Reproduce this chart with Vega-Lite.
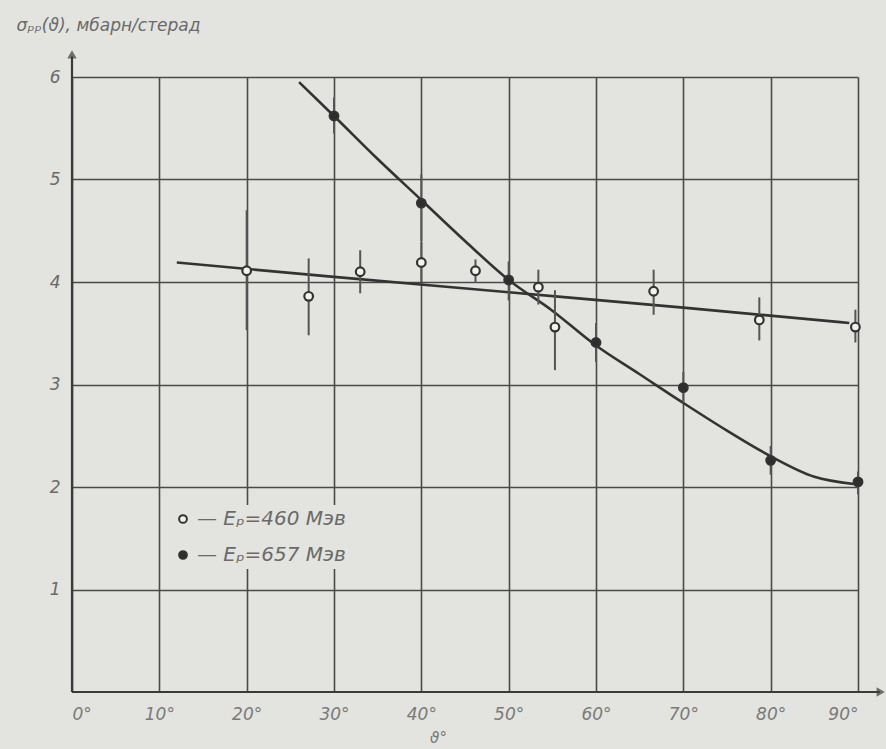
{
  "$schema": "https://vega.github.io/schema/vega-lite/v6.json",
  "width": 786,
  "height": 615,
  "autosize": "none",
  "padding": {"left": 72, "top": 77, "right": 28, "bottom": 57},
  "background": "#e3e3df",
  "config": {
    "view": {"stroke": null},
    "font": "DejaVu Sans",
    "axis": {"labelFont": "DejaVu Sans", "titleFont": "DejaVu Sans"}
  },
  "datasets": {
    "pts": [
      {"a": 20, "s": 4.11, "lo": 3.53, "hi": 4.70, "series": "460"},
      {"a": 27.1, "s": 3.86, "lo": 3.48, "hi": 4.23, "series": "460"},
      {"a": 33, "s": 4.10, "lo": 3.89, "hi": 4.31, "series": "460"},
      {"a": 40, "s": 4.19, "lo": 4.0, "hi": 4.39, "series": "460"},
      {"a": 46.2, "s": 4.11, "lo": 3.99, "hi": 4.22, "series": "460"},
      {"a": 53.4, "s": 3.95, "lo": 3.78, "hi": 4.12, "series": "460"},
      {"a": 55.3, "s": 3.56, "lo": 3.14, "hi": 3.92, "series": "460"},
      {"a": 66.6, "s": 3.91, "lo": 3.68, "hi": 4.12, "series": "460"},
      {"a": 78.7, "s": 3.63, "lo": 3.43, "hi": 3.85, "series": "460"},
      {"a": 89.7, "s": 3.56, "lo": 3.41, "hi": 3.73, "series": "460"},
      {"a": 30, "s": 5.62, "lo": 5.45, "hi": 5.80, "series": "657"},
      {"a": 40, "s": 4.77, "lo": 4.40, "hi": 5.05, "series": "657"},
      {"a": 50, "s": 4.02, "lo": 3.82, "hi": 4.20, "series": "657"},
      {"a": 60, "s": 3.41, "lo": 3.22, "hi": 3.60, "series": "657"},
      {"a": 70, "s": 2.97, "lo": 2.82, "hi": 3.12, "series": "657"},
      {"a": 80, "s": 2.26, "lo": 2.12, "hi": 2.40, "series": "657"},
      {"a": 90, "s": 2.05, "lo": 1.93, "hi": 2.15, "series": "657"}
    ],
    "curves": [
      {"a": 12, "s": 4.19, "series": "460"},
      {"a": 30, "s": 4.05, "series": "460"},
      {"a": 50, "s": 3.9, "series": "460"},
      {"a": 70, "s": 3.75, "series": "460"},
      {"a": 89, "s": 3.6, "series": "460"},
      {"a": 26, "s": 5.95, "series": "657"},
      {"a": 30, "s": 5.62, "series": "657"},
      {"a": 35, "s": 5.2, "series": "657"},
      {"a": 40, "s": 4.8, "series": "657"},
      {"a": 45, "s": 4.4, "series": "657"},
      {"a": 50, "s": 4.02, "series": "657"},
      {"a": 55, "s": 3.72, "series": "657"},
      {"a": 60, "s": 3.38, "series": "657"},
      {"a": 65, "s": 3.1, "series": "657"},
      {"a": 70, "s": 2.82, "series": "657"},
      {"a": 75, "s": 2.55, "series": "657"},
      {"a": 80, "s": 2.3, "series": "657"},
      {"a": 85, "s": 2.1, "series": "657"},
      {"a": 89.5, "s": 2.03, "series": "657"}
    ],
    "axeslines": [
      {"a": 0, "s": 0, "a2": 0, "s2": 6.2},
      {"a": 0, "s": 0, "a2": 92.5, "s2": 0}
    ],
    "arrows": [
      {"a": 0, "s": 6.22, "shape": "triangle-up"},
      {"a": 92.6, "s": 0, "shape": "triangle-right"}
    ]
  },
  "layer": [
    {
      "data": {"values": [{}]},
      "mark": {"type": "point", "opacity": 0},
      "encoding": {
        "x": {
          "datum": 0, "type": "quantitative",
          "scale": {"domain": [0, 90], "nice": false, "zero": false},
          "axis": {
            "values": [0, 10, 20, 30, 40, 50, 60, 70, 80, 90],
            "labelExpr": "datum.value + '°'",
            "grid": true, "gridColor": "#4a4a4a", "gridWidth": 1.6,
            "domain": false, "ticks": false,
            "labelFontSize": 17, "labelFontStyle": "italic", "labelColor": "#7a7a7a",
            "labelPadding": 14,
            "title": "ϑ°", "titleFontSize": 15, "titleFontWeight": "normal", "titleFontStyle": "italic",
            "titleColor": "#777", "titlePadding": 8, "titleX": 366
          }
        },
        "y": {
          "datum": 0, "type": "quantitative",
          "scale": {"domain": [0, 6], "nice": false, "zero": false},
          "axis": {
            "values": [1, 2, 3, 4, 5, 6],
            "format": "d",
            "grid": true, "gridColor": "#4a4a4a", "gridWidth": 1.6,
            "domain": false, "ticks": false,
            "labelFontSize": 17, "labelFontStyle": "italic", "labelColor": "#6a6a6a",
            "labelPadding": 12,
            "title": "σₚₚ(ϑ), мбарн/стерад", "titleAngle": 0, "titleAlign": "left",
            "titleBaseline": "middle",
            "titleX": -56, "titleY": -52, "titleFontSize": 17, "titleFontWeight": "normal",
            "titleFontStyle": "italic", "titleColor": "#6a6a6a"
          }
        }
      }
    },
    {
      "data": {"name": "axeslines"},
      "mark": {"type": "rule", "color": "#3a3a3a", "strokeWidth": 2.2},
      "encoding": {
        "x": {"field": "a", "type": "quantitative"},
        "y": {"field": "s", "type": "quantitative"},
        "x2": {"field": "a2"},
        "y2": {"field": "s2"}
      }
    },
    {
      "data": {"name": "arrows"},
      "mark": {"type": "point", "filled": true, "color": "#3a3a3a", "size": 90},
      "encoding": {
        "x": {"field": "a", "type": "quantitative"},
        "y": {"field": "s", "type": "quantitative"},
        "shape": {"field": "shape", "type": "nominal", "scale": null, "legend": null}
      }
    },
    {
      "data": {"name": "curves"},
      "mark": {"type": "line", "interpolate": "monotone", "color": "#333333", "strokeWidth": 2.6},
      "encoding": {
        "x": {"field": "a", "type": "quantitative"},
        "y": {"field": "s", "type": "quantitative"},
        "detail": {"field": "series", "type": "nominal"}
      }
    },
    {
      "data": {"name": "pts"},
      "mark": {"type": "rule", "color": "#555555", "strokeWidth": 2},
      "encoding": {
        "x": {"field": "a", "type": "quantitative"},
        "y": {"field": "lo", "type": "quantitative"},
        "y2": {"field": "hi"}
      }
    },
    {
      "data": {"name": "pts"},
      "mark": {"type": "point", "shape": "circle", "size": 75, "stroke": "#333333", "strokeWidth": 2.2, "opacity": 1},
      "encoding": {
        "x": {"field": "a", "type": "quantitative"},
        "y": {"field": "s", "type": "quantitative"},
        "fill": {
          "field": "series", "type": "nominal",
          "scale": {"domain": ["460", "657"], "range": ["#f2f2ef", "#2e2e2e"]},
          "legend": {
            "orient": "none", "legendX": 97, "legendY": 428,
            "title": null, "direction": "vertical",
            "labelExpr": "datum.label == '460' ? '— Eₚ=460 Мэв' : '— Eₚ=657 Мэв'",
            "labelFontSize": 20, "labelFontStyle": "italic", "labelColor": "#6a6a6a",
            "symbolType": "circle", "symbolSize": 60, "symbolStrokeColor": "#333333",
            "symbolStrokeWidth": 2, "rowPadding": 16, "labelOffset": 4,
            "fillColor": "#e3e3df", "padding": 4
          }
        }
      }
    }
  ]
}
